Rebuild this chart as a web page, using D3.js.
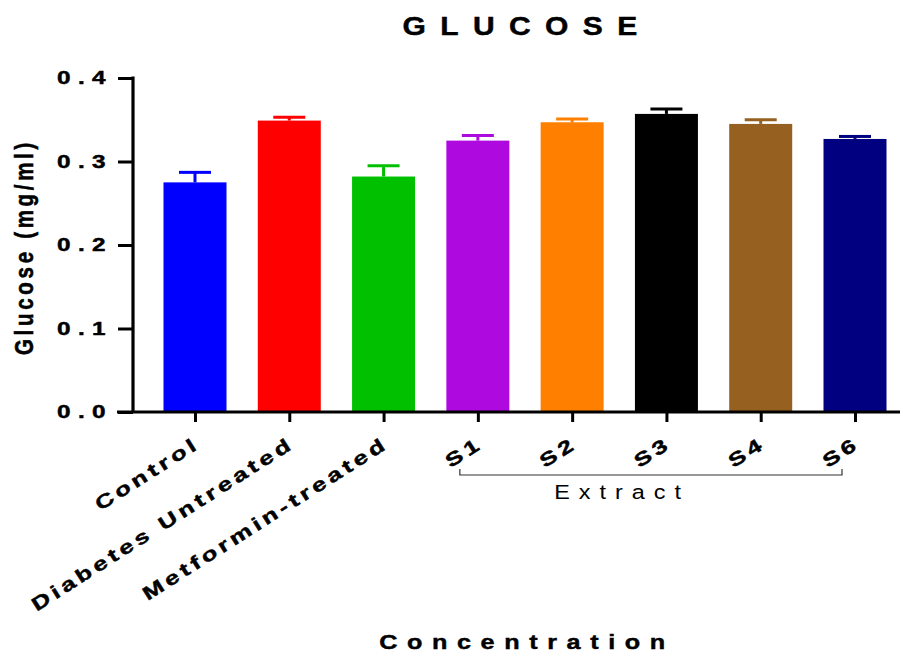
<!DOCTYPE html>
<html>
<head>
<meta charset="utf-8">
<script src="https://cdn.jsdelivr.net/npm/d3@7"></script>
<style>
  body { margin: 0; background: #fff; }
  svg { display: block; }
  text { font-family: "Liberation Sans", Arial, sans-serif; }
  .heavy { stroke: #000; stroke-width: 0.45px; }
</style>
</head>
<body>
<svg id="chart" width="911" height="654"></svg>
<script>
const categories = ["Control", "Diabetes Untreated", "Metformin-treated", "S1", "S2", "S3", "S4", "S6"];
const means = [0.275, 0.349, 0.282, 0.325, 0.347, 0.357, 0.345, 0.327];
const sems  = [0.012, 0.004, 0.013, 0.006, 0.004, 0.006, 0.005, 0.003];
const colors = ["#0000FF", "#FF0000", "#00C000", "#AE0AE0", "#FF8000", "#000000", "#956020", "#000080"];
const yTicks = [0.0, 0.1, 0.2, 0.3, 0.4];
const groupLabel = "Extract";
const groupMembers = ["S1", "S6"];

const svg = d3.select("#chart");
const x = d3.scalePoint().domain(categories).range([195, 855]);
const y = d3.scaleLinear().domain([0, 0.4]).range([412, 78]);
const barW = 63, capW = 32;

// bars
svg.append("g").selectAll("rect").data(categories).join("rect")
  .attr("x", d => x(d) - barW / 2)
  .attr("y", (d, i) => y(means[i]))
  .attr("width", barW)
  .attr("height", (d, i) => y(0) - y(means[i]))
  .attr("fill", (d, i) => colors[i]);

// error bars (upper only)
const eg = svg.append("g");
categories.forEach((d, i) => {
  eg.append("line").attr("x1", x(d)).attr("x2", x(d))
    .attr("y1", y(means[i])).attr("y2", y(means[i] + sems[i]))
    .attr("stroke", colors[i]).attr("stroke-width", 3);
  eg.append("line").attr("x1", x(d) - capW / 2).attr("x2", x(d) + capW / 2)
    .attr("y1", y(means[i] + sems[i])).attr("y2", y(means[i] + sems[i]))
    .attr("stroke", colors[i]).attr("stroke-width", 3);
});

// y axis
const yAxis = d3.axisLeft(y).tickValues(yTicks).tickFormat("").tickSize(15);
const gy = svg.append("g").attr("transform", "translate(133,0)").call(yAxis);
gy.select(".domain").attr("stroke", "#000").attr("stroke-width", 3.2).attr("d", "M0,76.5V412");
gy.selectAll(".tick line").attr("stroke", "#000").attr("stroke-width", 3);

// y tick labels (wide bold)
svg.append("g").selectAll("text").data(yTicks).join("text")
  .attr("class", "heavy")
  .attr("transform", d => `translate(113,${y(d)}) scale(1.35,1)`)
  .attr("text-anchor", "end").attr("dy", "0.36em")
  .attr("font-size", 18).attr("font-weight", "bold")
  .style("letter-spacing", "5.5px")
  .text(d => d3.format(".1f")(d));

// x axis
const xAxis = d3.axisBottom(x).tickSize(10).tickFormat("");
const gx = svg.append("g").attr("transform", "translate(0,412)").call(xAxis);
gx.select(".domain").attr("stroke", "#000").attr("stroke-width", 3.2).attr("d", "M117,0H900");
gx.selectAll(".tick line").attr("stroke", "#000").attr("stroke-width", 3);

// x tick labels rotated
svg.append("g").selectAll("text").data(categories).join("text")
  .attr("class", "heavy")
  .attr("transform", d => `translate(${x(d) + 6},${447}) rotate(-32.5) scale(1.35,1)`)
  .attr("text-anchor", "end")
  .attr("font-size", 19).attr("font-weight", "bold")
  .style("letter-spacing", "3px")
  .text(d => d);

// group bracket
const bx1 = x(groupMembers[0]) - 18, bx2 = x(groupMembers[1]) - 13;
svg.append("path")
  .attr("d", `M${bx1},469V475H${bx2}V469`)
  .attr("fill", "none").attr("stroke", "#333").attr("stroke-width", 1.2);
svg.append("text").attr("transform", "translate(622,499) scale(1.2,1)").attr("text-anchor", "middle")
  .attr("font-size", 19.5).style("letter-spacing", "7.5px").text(groupLabel);

// title
svg.append("text").attr("class", "heavy").attr("transform", "translate(527,35) scale(1.2,1)").attr("text-anchor", "middle")
  .attr("font-size", 25).attr("font-weight", "bold").style("letter-spacing", "12px").text("GLUCOSE");

// x axis title
svg.append("text").attr("class", "heavy").attr("transform", "translate(527,649) scale(1.2,1)").attr("text-anchor", "middle")
  .attr("font-size", 21).attr("font-weight", "bold").style("letter-spacing", "8px").text("Concentration");

// y axis title
svg.append("text").attr("class", "heavy").attr("transform", "translate(33,247) rotate(-90) scale(1,1.3)").attr("text-anchor", "middle")
  .attr("font-size", 20.5).attr("font-weight", "bold").style("letter-spacing", "3.7px").text("Glucose (mg/ml)");
</script>
</body>
</html>
